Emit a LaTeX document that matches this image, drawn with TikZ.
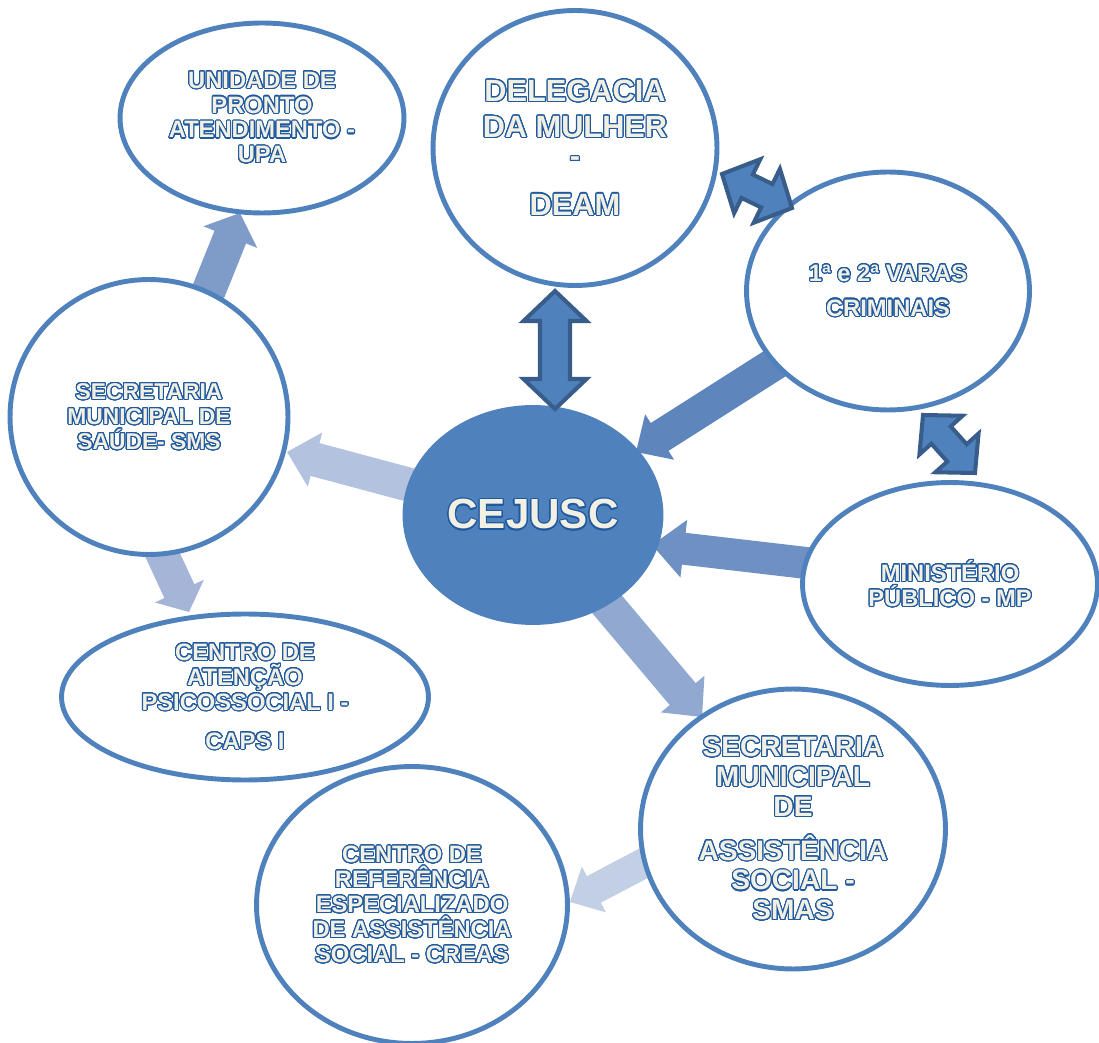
\documentclass[tikz,border=0pt]{standalone}
\usepackage{xcolor}
\usepackage{tikz}
\usetikzlibrary{calc}
\usetikzlibrary{shapes.geometric}
\usepackage{fontspec}
\setmainfont{Liberation Sans}
\usepackage{contour}
\contourlength{0.6pt}
\contournumber{32}
\definecolor{AzulBorda}{HTML}{4F81BD}
\definecolor{AzulEscuro}{HTML}{385D8A}
\definecolor{AzulLetra}{HTML}{1F5AA0}
\definecolor{CremeLetra}{HTML}{F2EFE3}
\definecolor{SetaUPA}{HTML}{7F9CC9}
\definecolor{SetaSMS}{HTML}{B3C2DE}
\definecolor{SetaCAPS}{HTML}{A4B5D8}
\definecolor{SetaVaras}{HTML}{5E86BC}
\definecolor{SetaMP}{HTML}{6F90C2}
\definecolor{SetaSMAS}{HTML}{91A9D0}
\definecolor{SetaCREAS}{HTML}{C2CFE5}

\newcommand{\letra}[1]{\contour{AzulLetra}{#1}}

% seta simples: cor, base, ponta, meio corpo, meia cabeca, cabeca
\newcommand{\setasimples}[6]{%
  \coordinate (pescoco) at ($(#3)!#6!(#2)$);
  \fill[#1] ($(#2)!#4!90:(#3)$) -- ($(pescoco)!#4!90:(#3)$) -- ($(pescoco)!#5!90:(#3)$) -- (#3)
    -- ($(pescoco)!#5!-90:(#3)$) -- ($(pescoco)!#4!-90:(#3)$) -- ($(#2)!#4!-90:(#3)$) -- cycle;
}
% seta dupla: ponta, ponta, meio corpo, meia cabeca, cabeca
\newcommand{\setadupla}[5]{%
  \coordinate (colarA) at ($(#1)!#5!(#2)$);
  \coordinate (colarB) at ($(#2)!#5!(#1)$);
  \filldraw[dupla] (#1) -- ($(colarA)!#4!90:(#2)$) -- ($(colarA)!#3!90:(#2)$) -- ($(colarB)!#3!90:(#2)$)
    -- ($(colarB)!#4!90:(#2)$) -- (#2) -- ($(colarB)!#4!-90:(#2)$) -- ($(colarB)!#3!-90:(#2)$)
    -- ($(colarA)!#3!-90:(#2)$) -- ($(colarA)!#4!-90:(#2)$) -- cycle;
}

\tikzset{
  orgao/.style = {ellipse, draw = AzulBorda, line width = 2.8pt, fill = white, inner sep = 0pt,
    align = center, text = CremeLetra, font = \bfseries\fontsize{13.5}{14.2}\selectfont},
  dupla/.style = {fill = AzulBorda, draw = AzulEscuro, line width = 2.3pt, line join = miter},
}

\begin{document}
\begin{tikzpicture}[x = 0.02cm, y = -0.02cm]
\useasboundingbox (0,0) rectangle (1099,1043);

  % pontas das setas
\coordinate (baseUPA) at (205,300);    \coordinate (pontaUPA) at (240,213);
\coordinate (baseSMS) at (425,489);    \coordinate (pontaSMS) at (287,452);
\coordinate (baseCAPS) at (158,545);   \coordinate (pontaCAPS) at (189,612);
\coordinate (baseVaras) at (790,354);  \coordinate (pontaVaras) at (636,452);
\coordinate (baseMP) at (815,564);     \coordinate (pontaMP) at (652,545);
\coordinate (baseSMAS) at (595,590);   \coordinate (pontaSMAS) at (702,717);
\coordinate (baseCREAS) at (665,852);  \coordinate (pontaCREAS) at (570,902);

  % setas
\setasimples{SetaUPA}{baseUPA}{pontaUPA}{0.34cm}{0.58cm}{0.52cm}
\setasimples{SetaSMS}{baseSMS}{pontaSMS}{0.34cm}{0.56cm}{0.58cm}
\setasimples{SetaCAPS}{baseCAPS}{pontaCAPS}{0.33cm}{0.54cm}{0.46cm}
\setasimples{SetaVaras}{baseVaras}{pontaVaras}{0.33cm}{0.54cm}{0.56cm}
\setasimples{SetaMP}{baseMP}{pontaMP}{0.32cm}{0.58cm}{0.64cm}
\setasimples{SetaSMAS}{baseSMAS}{pontaSMAS}{0.34cm}{0.57cm}{0.6cm}
\setasimples{SetaCREAS}{baseCREAS}{pontaCREAS}{0.30cm}{0.52cm}{0.54cm}

  % orgaos
\node[orgao, minimum width = 5.68cm, minimum height = 3.8cm] (upa) at (262,118)
  {\letra{UNIDADE DE}\\\letra{PRONTO}\\\letra{ATENDIMENTO -}\\\letra{UPA}};
\node[orgao, minimum width = 5.68cm, minimum height = 5.5cm,
  font = \bfseries\fontsize{17.5}{20.4}\selectfont] (deam) at (575,148)
  {\letra{DELEGACIA}\\\letra{DA MULHER}\\[-3.5pt]\letra{-}\\[7pt]\letra{DEAM}};
\node[orgao, minimum width = 5.66cm, minimum height = 4.76cm,
  font = \bfseries\fontsize{13.5}{19.8}\selectfont] (varas) at (888,291)
  {\letra{1ª e 2ª VARAS}\\\letra{CRIMINAIS}};
\node[orgao, minimum width = 5.56cm, minimum height = 5.5cm,
  font = \bfseries\fontsize{13}{14.2}\selectfont] (sms) at (149,417)
  {\letra{SECRETARIA}\\\letra{MUNICIPAL DE}\\\letra{SAÚDE- SMS}};
\node[orgao, fill = AzulBorda, minimum width = 5.12cm, minimum height = 4.3cm,
  font = \bfseries\fontsize{24}{28}\selectfont] (cejusc) at (533,515)
  {\letra{CEJUSC}};
\node[orgao, minimum width = 5.9cm, minimum height = 4.06cm] (mp) at (950,584)
  {\letra{MINISTÉRIO}\\\letra{PÚBLICO - MP}};
\node[orgao, minimum width = 7.34cm, minimum height = 3.32cm] (caps) at (245,697)
  {\letra{CENTRO DE}\\\letra{ATENÇÃO}\\\letra{PSICOSSOCIAL I -}\\[8pt]\letra{CAPS I}};
\node[orgao, minimum width = 6.1cm, minimum height = 5.6cm,
  font = \bfseries\fontsize{16}{17}\selectfont] (smas) at (793,829)
  {\letra{SECRETARIA}\\\letra{MUNICIPAL}\\\letra{DE}\\[8pt]\letra{ASSISTÊNCIA}\\\letra{SOCIAL -}\\\letra{SMAS}};
\node[orgao, minimum width = 6.22cm, minimum height = 5.54cm] (creas) at (412,905)
  {\letra{CENTRO DE}\\\letra{REFERÊNCIA}\\\letra{ESPECIALIZADO}\\\letra{DE ASSISTÊNCIA}\\\letra{SOCIAL - CREAS}};

  % setas duplas
\coordinate (deamSul) at (555,291);  \coordinate (cejuscNorte) at (555,409);
\coordinate (deamLeste) at (722,174);  \coordinate (varasOeste) at (792,208);
\coordinate (varasSul) at (923,415);  \coordinate (mpNorte) at (975,473);
\setadupla{deamSul}{cejuscNorte}{0.30cm}{0.63cm}{0.6cm}
\setadupla{deamLeste}{varasOeste}{0.26cm}{0.6cm}{0.56cm}
\setadupla{varasSul}{mpNorte}{0.26cm}{0.58cm}{0.54cm}

\end{tikzpicture}
\end{document}
